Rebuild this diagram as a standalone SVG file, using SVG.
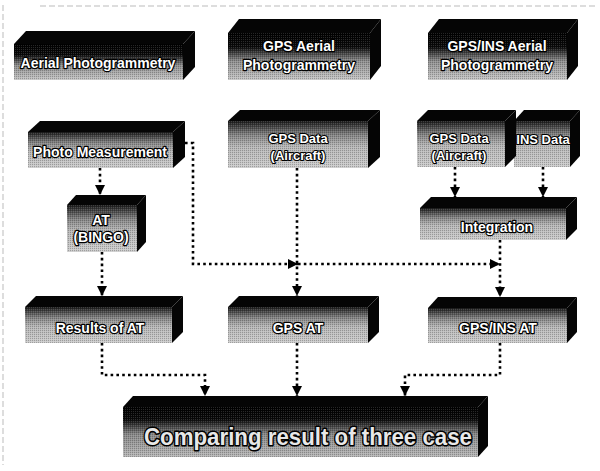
<svg xmlns="http://www.w3.org/2000/svg" width="600" height="471" viewBox="0 0 600 471">
<style>
.dk{fill:#050505}
.tx{font-family:"Liberation Sans",Arial,sans-serif;font-weight:bold;font-size:14px;fill:#fff;stroke:#000;stroke-width:2.4px;paint-order:stroke;stroke-linejoin:round;text-anchor:middle}
.sm{font-size:13px;stroke-width:2.2px}
.big{font-size:24px;stroke-width:3px;fill:#e8e8e8}
.con{fill:none;stroke:#000;stroke-width:2.6;stroke-dasharray:2.6 3.2}
.frame{stroke:#bbb;stroke-width:1;stroke-dasharray:6 3;fill:none}
</style>
<defs>
<linearGradient id="gTop" x1="0" y1="0" x2="0" y2="1">
<stop offset="0" stop-color="#000"/><stop offset="0.3" stop-color="#0a0a0a"/><stop offset="0.6" stop-color="#8f8f8f"/><stop offset="1" stop-color="#c6c6c6"/>
</linearGradient>
<linearGradient id="gFace" x1="0" y1="0" x2="0" y2="1">
<stop offset="0" stop-color="#1a1a1a"/><stop offset="0.3" stop-color="#858585"/><stop offset="0.55" stop-color="#b8b8b8"/><stop offset="1" stop-color="#cccccc"/>
</linearGradient>
<linearGradient id="gBig" x1="0" y1="0" x2="0" y2="1">
<stop offset="0" stop-color="#000"/><stop offset="0.25" stop-color="#0a0a0a"/><stop offset="0.55" stop-color="#8a8a8a"/><stop offset="1" stop-color="#b8b8b8"/>
</linearGradient>
<pattern id="dith" width="2" height="2" patternUnits="userSpaceOnUse">
<rect x="0" y="0" width="1" height="1" fill="#000" fill-opacity="0.22"/>
<rect x="1" y="1" width="1" height="1" fill="#fff" fill-opacity="0.15"/>
</pattern>
<marker id="ah" viewBox="0 0 10 10" refX="10" refY="5" markerWidth="10" markerHeight="11" markerUnits="userSpaceOnUse" orient="auto">
<path d="M0,0 L10,5 L0,10 Z" fill="#000"/>
</marker>
</defs>
<rect width="600" height="471" fill="#fff"/>
<path class="frame" d="M40,6 H598 M3,5 V465"/>

<g id="aerial">
<path class="dk" d="M14,44 L26,31 L195,31 L183,44 Z"/>
<path class="dk" d="M183,44 L195,31 L195,67 L183,80 Z"/>
<rect x="14" y="44" width="169" height="36" fill="url(#gTop)"/>
<rect x="14" y="44" width="169" height="36" fill="url(#dith)"/>
<text class="tx" x="98" y="68">Aerial Photogrammetry</text>
</g>
<g id="gps-aerial">
<path class="dk" d="M228,33 L239,19 L381,19 L370,33 Z"/>
<path class="dk" d="M370,33 L381,19 L381,66 L370,80 Z"/>
<rect x="228" y="33" width="142" height="47" fill="url(#gTop)"/>
<rect x="228" y="33" width="142" height="47" fill="url(#dith)"/>
<text class="tx" x="299" y="51">GPS Aerial</text>
<text class="tx" x="299" y="70">Photogrammetry</text>
</g>
<g id="gpsins-aerial">
<path class="dk" d="M428,33 L439,19 L578,19 L567,33 Z"/>
<path class="dk" d="M567,33 L578,19 L578,66 L567,80 Z"/>
<rect x="428" y="33" width="139" height="47" fill="url(#gTop)"/>
<rect x="428" y="33" width="139" height="47" fill="url(#dith)"/>
<text class="tx" x="497" y="51">GPS/INS Aerial</text>
<text class="tx" x="497" y="70">Photogrammetry</text>
</g>

<g id="photo-measurement">
<path class="dk" d="M28,132 L40,121 L185,121 L173,132 Z"/>
<path class="dk" d="M173,132 L185,121 L185,157 L173,168 Z"/>
<rect x="28" y="132" width="145" height="36" fill="url(#gFace)"/>
<rect x="28" y="132" width="145" height="36" fill="url(#dith)"/>
<text class="tx" x="100" y="157">Photo Measurement</text>
</g>
<g id="gps-data-1">
<path class="dk" d="M228,121 L240,110 L380,110 L368,121 Z"/>
<path class="dk" d="M368,121 L380,110 L380,157 L368,168 Z"/>
<rect x="228" y="121" width="140" height="47" fill="url(#gFace)"/>
<rect x="228" y="121" width="140" height="47" fill="url(#dith)"/>
<text class="tx sm" x="298" y="143">GPS Data</text>
<text class="tx sm" x="298" y="160">(Aircraft)</text>
</g>
<g id="ins-data">
<path class="dk" d="M514,121 L524,110 L580,110 L570,121 Z"/>
<path class="dk" d="M570,121 L580,110 L580,156 L570,167 Z"/>
<rect x="514" y="121" width="56" height="46" fill="url(#gFace)"/>
<rect x="514" y="121" width="56" height="46" fill="url(#dith)"/>
<text class="tx sm" x="543" y="144">INS Data</text>
</g>
<g id="gps-data-2">
<path class="dk" d="M417,121 L428,110 L516,110 L505,121 Z"/>
<path class="dk" d="M505,121 L516,110 L516,156 L505,167 Z"/>
<rect x="417" y="121" width="88" height="46" fill="url(#gFace)"/>
<rect x="417" y="121" width="88" height="46" fill="url(#dith)"/>
<text class="tx sm" x="459" y="143">GPS Data</text>
<text class="tx sm" x="459" y="160">(Aircraft)</text>
</g>
<g id="at-bingo">
<path class="dk" d="M67,205 L76,195 L146,195 L137,205 Z"/>
<path class="dk" d="M137,205 L146,195 L146,242 L137,252 Z"/>
<rect x="67" y="205" width="70" height="47" fill="url(#gFace)"/>
<rect x="67" y="205" width="70" height="47" fill="url(#dith)"/>
<text class="tx" x="101" y="225">AT</text>
<text class="tx" x="101" y="242">(BINGO)</text>
</g>
<g id="integration">
<path class="dk" d="M420,208 L431,197 L577,197 L566,208 Z"/>
<path class="dk" d="M566,208 L577,197 L577,229 L566,240 Z"/>
<rect x="420" y="208" width="146" height="32" fill="url(#gFace)"/>
<rect x="420" y="208" width="146" height="32" fill="url(#dith)"/>
<text class="tx" x="497" y="232">Integration</text>
</g>
<g id="results-at">
<path class="dk" d="M25,307 L36,296 L183,296 L172,307 Z"/>
<path class="dk" d="M172,307 L183,296 L183,332 L172,343 Z"/>
<rect x="25" y="307" width="147" height="36" fill="url(#gFace)"/>
<rect x="25" y="307" width="147" height="36" fill="url(#dith)"/>
<text class="tx" x="100" y="333">Results of AT</text>
</g>
<g id="gps-at">
<path class="dk" d="M228,307 L239,296 L379,296 L368,307 Z"/>
<path class="dk" d="M368,307 L379,296 L379,332 L368,343 Z"/>
<rect x="228" y="307" width="140" height="36" fill="url(#gFace)"/>
<rect x="228" y="307" width="140" height="36" fill="url(#dith)"/>
<text class="tx" x="298" y="333">GPS AT</text>
</g>
<g id="gpsins-at">
<path class="dk" d="M428,308 L438,297 L577,297 L567,308 Z"/>
<path class="dk" d="M567,308 L577,297 L577,332 L567,343 Z"/>
<rect x="428" y="308" width="139" height="35" fill="url(#gFace)"/>
<rect x="428" y="308" width="139" height="35" fill="url(#dith)"/>
<text class="tx" x="498" y="333">GPS/INS AT</text>
</g>
<g id="comparing">
<path class="dk" d="M123,407 L133,396 L488,396 L478,407 Z"/>
<path class="dk" d="M478,407 L488,396 L488,446 L478,457 Z"/>
<rect x="123" y="407" width="355" height="50" fill="url(#gBig)"/>
<rect x="123" y="407" width="355" height="50" fill="url(#dith)"/>
<text class="tx big" x="308" y="445" textLength="328" lengthAdjust="spacingAndGlyphs">Comparing result of three case</text>
</g>

<g id="connectors">
<path class="con" d="M100,168 V195" marker-end="url(#ah)"/>
<path class="con" d="M102,252 V296" marker-end="url(#ah)"/>
<path class="con" d="M185,143 H193 V264 H298" marker-end="url(#ah)"/>
<path class="con" d="M298,264 H500" marker-end="url(#ah)"/>
<path class="con" d="M297,168 V296" marker-end="url(#ah)"/>
<path class="con" d="M455,167 V197" marker-end="url(#ah)"/>
<path class="con" d="M543,167 V197" marker-end="url(#ah)"/>
<path class="con" d="M500,240 V297" marker-end="url(#ah)"/>
<path class="con" d="M102,343 V375 H205 V396" marker-end="url(#ah)"/>
<path class="con" d="M297,343 V396" marker-end="url(#ah)"/>
<path class="con" d="M500,343 V375 H405 V396" marker-end="url(#ah)"/>
</g>
</svg>
